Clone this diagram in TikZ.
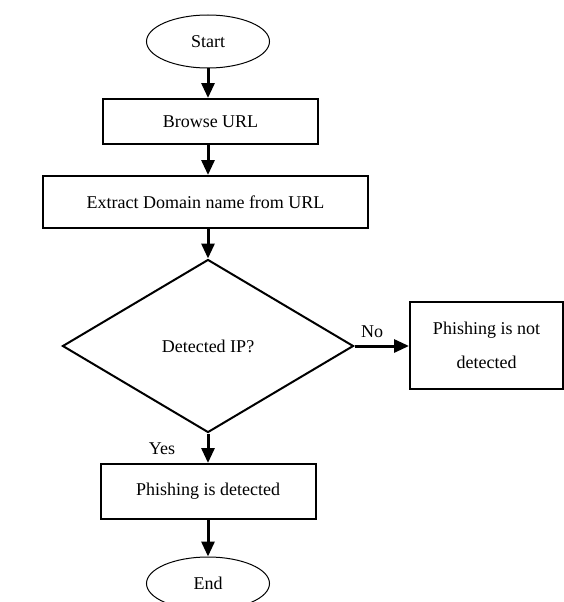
\documentclass[tikz,border=0pt]{standalone}
\usepackage{fontspec}
\setmainfont{Liberation Serif}
\usetikzlibrary{shapes.geometric,arrows.meta}
\begin{document}
\begin{tikzpicture}[x=1pt,y=-1pt,
  every node/.style={font=\fontsize{18}{22}\selectfont, inner sep=0pt},
  term/.style={draw, line width=1pt, ellipse, minimum width=123pt, minimum height=53pt},
  procbox/.style={draw, line width=2pt, rectangle},
  decide/.style={draw, line width=2pt, diamond, minimum width=291pt, minimum height=173pt, aspect=1.68},
  flow/.style={line width=3pt, -{Triangle[length=15pt,width=13pt]}},
  lbl/.style={font=\fontsize{18}{22}\selectfont}
]
\useasboundingbox (0,0) rectangle (564,602);
\clip (0,0) rectangle (564,602);
\fill[white] (0,0) rectangle (564,602);

\node[term] (start) at (208,41.5) {Start};
\node[procbox, minimum width=215pt, minimum height=45pt] (browse) at (210.5,121.5) {Browse URL};
\node[procbox, minimum width=325pt, minimum height=52pt] (extract) at (205.5,202) {Extract Domain name from URL};
\node[decide] (dec) at (208,346) {Detected IP?};
\node[procbox, minimum width=153pt, minimum height=87pt, align=center] (notdet) at (486.5,345.5) {Phishing is not\\[12pt]detected};
\node[procbox, minimum width=215pt, minimum height=55pt] (det) at (208,491.5) {Phishing is detected};
\node[term] (end) at (208,583.5) {End};

\draw[flow] (start.south) -- (start.south |- browse.north);
\draw[flow] (start.south |- browse.south) -- (start.south |- extract.north);
\draw[flow] (start.south |- extract.south) -- (dec.north);
\draw[flow] (dec.east) -- (notdet.west |- dec.east);
\draw[flow] (dec.south) -- (dec.south |- det.north);
\draw[flow] (dec.south |- det.south) -- (end.north);

\node[lbl] (no) at (372,332) {No};
\node[lbl] (yes) at (162,449) {Yes};
\end{tikzpicture}
\end{document}
